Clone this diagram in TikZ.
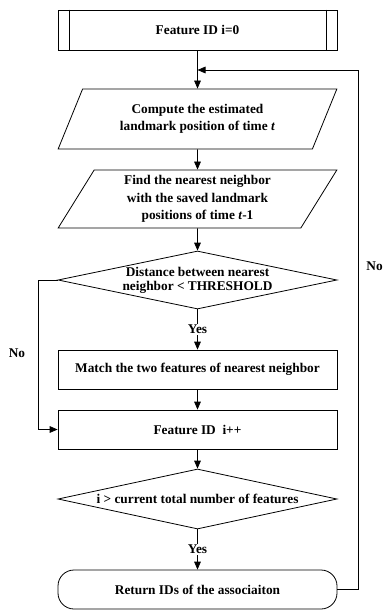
\documentclass[tikz,border=0pt]{standalone}
\usepackage{fontspec}
\setmainfont{Liberation Serif}
\usetikzlibrary{shapes.geometric,arrows.meta}

\tikzset{
	flow/.style={draw, line width=0.6pt, font=\fontsize{10}{13}\selectfont\bfseries, align=center, inner sep=0.75pt},
	procbox/.style={flow, rectangle, minimum width=209.25pt, minimum height=29.25pt},
	iobox/.style={flow, trapezium, trapezium left angle=62, trapezium right angle=118, trapezium stretches=true, minimum width=209.25pt},
	testbox/.style={flow, diamond, aspect=4.8, inner sep=0pt, minimum width=209.25pt},
	endbox/.style={flow, rectangle, rounded corners=12pt, minimum width=209.25pt, minimum height=29.25pt},
	lbl/.style={font=\fontsize{10}{12}\selectfont\bfseries, inner sep=1pt},
	arr/.style={line width=0.6pt, -{Triangle[length=6pt,width=5pt]}},
}

\begin{document}
\begin{tikzpicture}[x=0.75pt,y=0.75pt,yscale=-1,xscale=1]
	\useasboundingbox (0,0) rectangle (384,610);
	\node [procbox, minimum height=30pt] (init) at (197.5,30) {Feature ID i=0};
	\draw [line width=0.6pt] ([xshift=9pt]init.north west) -- ([xshift=9pt]init.south west) ([xshift=-8.5pt]init.north east) -- ([xshift=-8.5pt]init.south east);
	\node [iobox, minimum height=45pt] (estim) at (197.5,119) {Compute the estimated\\landmark position of time \textit{t}};
	\node [iobox, minimum height=43.5pt] (near) at (197.5,199) {Find the nearest neighbor\\with the saved landmark\\positions of time \textit{t}-1};
	\node [testbox, minimum height=43.5pt, font=\fontsize{10}{10.5}\selectfont\bfseries] (dist) at (197.5,280) {Distance between nearest\\neighbor < THRESHOLD};
	\node [procbox] (match) at (197.5,369.5) {Match the two features of nearest neighbor};
	\node [procbox] (inc) at (197.5,429.5) {Feature ID\ \ i++};
	\node [testbox, minimum height=45pt] (cmp) at (197.5,499) {i > current total number of features};
	\node [endbox] (ret) at (197.5,589.5) {Return IDs of the associaiton};
	\coordinate (join) at (197.5,70);
	\node [lbl] (noleft) at (17,353) {No};
	\node [lbl, inner sep=0pt, anchor=east] (noright) at (383,266) {No};

	\draw [arr] (init) -- (estim);
	\draw [arr] (estim) -- (near);
	\draw [arr] (near) -- (dist);
	\draw [arr] (dist) -- node [lbl, fill=white] {Yes} (match);
	\draw [arr] (match) -- (inc);
	\draw [arr] (inc) -- (cmp);
	\draw [arr] (cmp) -- node [lbl, fill=white] {Yes} (ret);
	\draw [arr] (dist.west) -- ++(-19,0) |- (inc.west);
	\draw [arr] (ret.east) -- ++(21,0) |- (join);
\end{tikzpicture}
\end{document}
